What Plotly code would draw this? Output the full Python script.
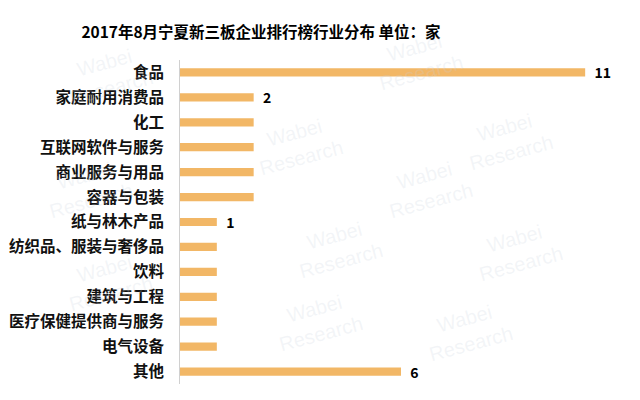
import plotly.graph_objects as go

categories = ["食品", "家庭耐用消费品", "化工", "互联网软件与服务", "商业服务与用品", "容器与包装",
              "纸与林木产品", "纺织品、服装与奢侈品", "饮料", "建筑与工程", "医疗保健提供商与服务",
              "电气设备", "其他"]
values = [11, 2, 2, 2, 2, 2, 1, 1, 1, 1, 1, 1, 6]
shown_labels = ["11", "2", "", "", "", "", "1", "", "", "", "", "", "6"]

FONT = "Noto Sans CJK SC"

# page body has an 8px margin, so figure coordinates are offset by 8px on screen
L, R, T, B = 172, 26, 52, 24
PW, PH = 640 - L - R, 400 - T - B

fig = go.Figure()
fig.add_trace(go.Bar(
    x=values, y=categories, orientation="h",
    marker=dict(color="#F2B766", line=dict(width=0)),
    text=[("  " + t) if t else "" for t in shown_labels],
    textposition="outside", cliponaxis=False, constraintext="none",
    textfont=dict(family=FONT, size=14, color="#000000", weight="bold"),
    hoverinfo="skip",
))

# faint watermark (pixel positions converted to plot-area fractions)
wm = [(50, 30), (240, 100), (550, 95), (30, 180), (470, 180), (280, 240),
      (560, 280), (50, 310), (260, 350), (460, 360), (410, 15)]
for (px, py) in wm:
    fig.add_annotation(x=(px - L) / PW, y=(400 - B - py) / PH, xref="paper", yref="paper",
                       text="Wabei<br>Research", showarrow=False, textangle=-15,
                       font=dict(family="Liberation Sans", size=20, color="rgba(200,208,222,0.22)"))

fig.update_layout(
    width=640, height=400,
    margin=dict(l=L, r=R, t=T, b=B, autoexpand=False),
    paper_bgcolor="white", plot_bgcolor="white",
    bargap=0.67, showlegend=False,
    title=dict(text="<b>2017年8月宁夏新三板企业排行榜行业分布 单位：家</b>",
               x=253 / 640, xref="container", xanchor="center", y=1 - 25 / 400, yref="container",
               yanchor="middle",
               font=dict(family=FONT, size=15.5, color="#000000")),
    xaxis=dict(range=[0, 12], visible=False, fixedrange=True),
    yaxis=dict(categoryorder="array", categoryarray=categories, autorange="reversed",
               showline=True, linecolor="#D0D0D0", linewidth=1, showgrid=False,
               ticks="", ticklabelstandoff=12, automargin=False,
               tickfont=dict(family=FONT, size=15.5, color="#111111", weight="bold")),
)

fig.write_html("out.html")
